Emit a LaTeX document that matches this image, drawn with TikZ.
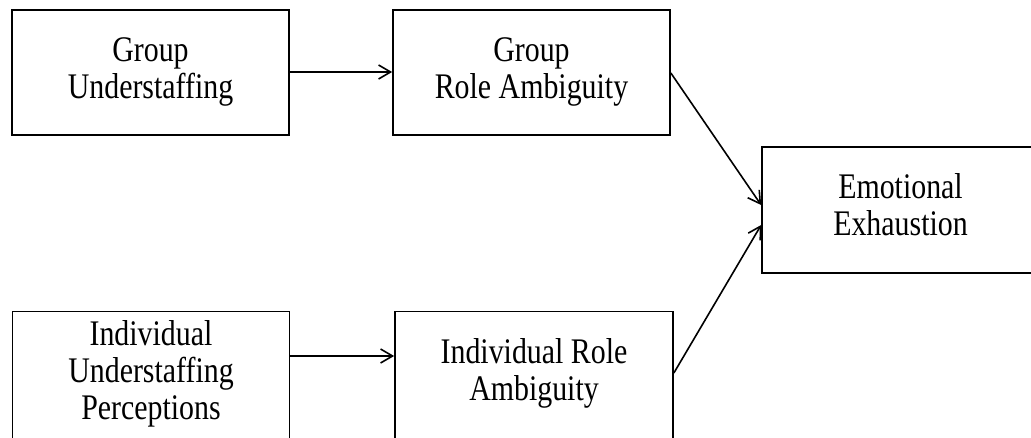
\documentclass[tikz,border=0pt]{standalone}
\usepackage{fontspec}
\setmainfont{Liberation Serif}[FakeStretch=0.83]
\usetikzlibrary{arrows.meta}
\newcommand{\boxlbl}[1]{\raisebox{-7pt}{\begin{tabular}{@{}c@{}}#1\end{tabular}}}
\begin{document}
\begin{tikzpicture}[x=1pt,y=-1pt,
  box/.style={draw, line width=1.7pt, minimum width=277pt, minimum height=125pt,
    inner sep=0pt, font=\fontsize{36}{37}\selectfont},
  arr/.style={-{Straight Barb[length=12pt,width=14pt]}, line width=1.6pt}]
\useasboundingbox (0,0) rectangle (1031,437);
\clip (0,0) rectangle (1031,437);
\node[box] (gu)  at (150.5,72.5)  {\boxlbl{Group\\Understaffing}};
\node[box] (gra) at (531.5,72.5)  {\boxlbl{Group\\Role Ambiguity}};
\node[box, minimum height=126pt] (ee)  at (900.5,210)   {\boxlbl{Emotional\\Exhaustion}};
\node[box, minimum height=127pt] (iup) at (151,375)   {\boxlbl{Individual\\Understaffing\\Perceptions}};
\node[box, minimum width=278pt, minimum height=127pt] (ira) at (534,375)   {\boxlbl{Individual Role\\Ambiguity}};
\draw[arr] (gu.east |- 0,72) -- (gra.west |- 0,72);
\draw[arr] (iup.east |- 0,356) -- (ira.west |- 0,356);
\draw[arr] (gra.east |- 0,73) -- (ee.west |- 0,205);
\draw[arr] (ira.east |- 0,373) -- (ee.west |- 0,225);
\end{tikzpicture}
\end{document}
